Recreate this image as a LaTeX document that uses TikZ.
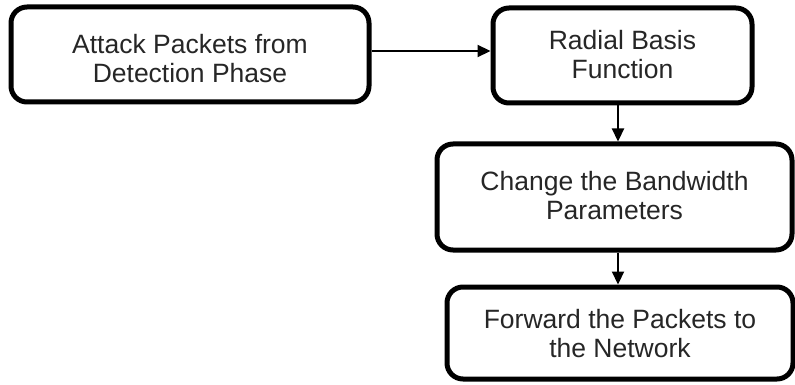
\documentclass[tikz,border=0pt]{standalone}
\usepackage{fontspec}
\setmainfont{Liberation Sans}
\usetikzlibrary{arrows.meta}
\newcommand\bxtext[2][0pt]{\raisebox{#1}[\height][\depth]{\begin{tabular}{@{}c@{}}#2\end{tabular}}}
\begin{document}
\begin{tikzpicture}[x=1pt,y=-1pt,
  flowbox/.style={draw=black, line width=5pt, rounded corners=16pt,
    inner sep=0pt, text=black!85,
    font=\fontsize{26.5}{29}\selectfont},
  arr/.style={line width=2.2pt, -{Triangle[length=13pt,width=12pt]}}]
\useasboundingbox (0,0) rectangle (795,385);
\node[flowbox, minimum width=358pt, minimum height=95pt] (b1) at (190,54.5) {\bxtext[-8pt]{Attack Packets from\\Detection Phase}};
\node[flowbox, minimum width=259pt, minimum height=95pt] (b2) at (622.5,55.5) {\bxtext[-3pt]{Radial Basis\\Function}};
\node[flowbox, minimum width=355pt, minimum height=106pt] (b3) at (614.5,197) {\bxtext[-2pt]{Change the Bandwidth\\Parameters}};
\node[flowbox, minimum width=346pt, minimum height=92pt] (b4) at (620,333) {\bxtext[-4pt]{Forward the Packets to\\the Network}};
\coordinate (vx) at (618,0);
\coordinate (hy) at (0,51);
\draw[arr] (b1.east |- hy) -- (b2.west |- hy);
\draw[arr] (b2.south -| vx) -- (b3.north -| vx);
\draw[arr] (b3.south -| vx) -- (b4.north -| vx);
\end{tikzpicture}
\end{document}
